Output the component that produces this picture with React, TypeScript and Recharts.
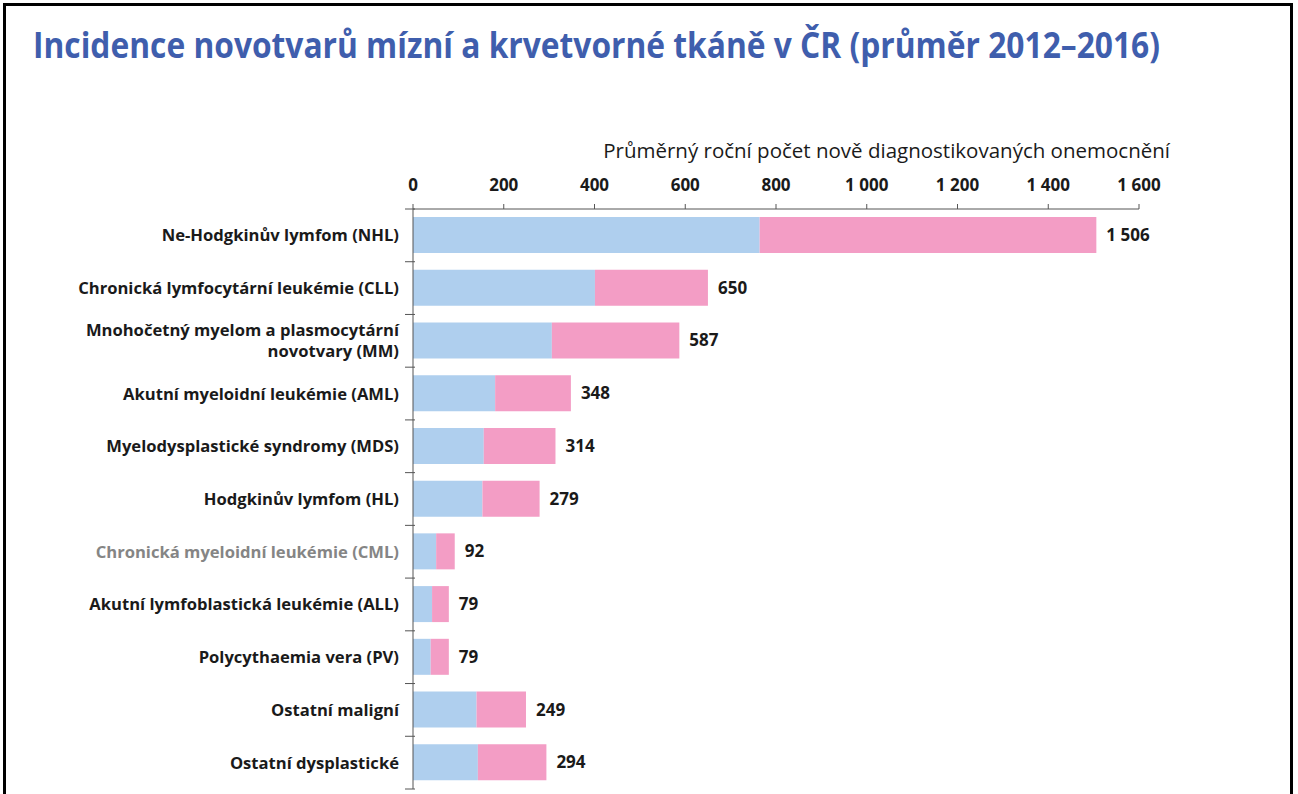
import React from "react";
import { BarChart, Bar, XAxis, YAxis, LabelList } from "recharts";

const categories = [
  "Ne-Hodgkinův lymfom (NHL)",
  "Chronická lymfocytární leukémie (CLL)",
  "Mnohočetný myelom a plasmocytární\nnovotvary (MM)",
  "Akutní myeloidní leukémie (AML)",
  "Myelodysplastické syndromy (MDS)",
  "Hodgkinův lymfom (HL)",
  "Chronická myeloidní leukémie (CML)",
  "Akutní lymfoblastická leukémie (ALL)",
  "Polycythaemia vera (PV)",
  "Ostatní maligní",
  "Ostatní dysplastické",
];
const males = [764, 401, 306, 181, 156, 153, 51, 42, 39, 140, 143];
const females = [742, 249, 281, 167, 158, 126, 41, 37, 40, 109, 151];
const totals = [1506, 650, 587, 348, 314, 279, 92, 79, 79, 249, 294];
const xTicks = [0, 200, 400, 600, 800, 1000, 1200, 1400, 1600];
const greyCategories = ["Chronická myeloidní leukémie (CML)"];

const data = categories.map((c, i) => ({
  name: c,
  male: males[i],
  female: females[i],
  total: totals[i],
}));

const fmtSp = (v: number) => {
  const s = String(Math.round(v));
  return s.length > 3 ? s.slice(0, s.length - 3) + " " + s.slice(-3) : s;
};

const FONT = "'Open Sans', 'Noto Sans', sans-serif";
const CHART_W = 1298;
const CHART_H = 794;
const AXIS_H = 30;
const TOP = 209 - AXIS_H;
const BOTTOM = 5;
const BAND = (CHART_H - TOP - AXIS_H - BOTTOM) / categories.length;

const YTick = (props: any) => {
  const { x, y, payload, index } = props;
  const lines = String(payload.value).split("\n");
  const grey = greyCategories.includes(payload.value);
  const lh = 21;
  const startY = y - ((lines.length - 1) * lh) / 2;
  return (
    <g>
      {lines.map((l, i) => (
        <text
          key={i}
          x={x - 6}
          y={startY + i * lh}
          dy={6}
          textAnchor="end"
          fontFamily={FONT}
          fontWeight={700}
          fontSize={16.6}
          fill={grey ? "#858585" : "#1a1a1a"}
        >
          {l}
        </text>
      ))}
      <line x1={x} x2={x + 10} y1={y + BAND / 2} y2={y + BAND / 2} stroke="#555" strokeWidth={1} />
      {index === 0 && (
        <line x1={x} x2={x + 10} y1={y - BAND / 2} y2={y - BAND / 2} stroke="#555" strokeWidth={1} />
      )}
    </g>
  );
};

export default function App() {
  return (
    <div style={{ position: "fixed", left: 0, top: 0, width: CHART_W, height: CHART_H, background: "#fff" }}>
      <div
        style={{
          position: "absolute",
          left: 3,
          top: 3,
          width: 1284,
          height: 800,
          borderLeft: "3px solid #000",
          borderTop: "3px solid #000",
          borderRight: "3px solid #000",
        }}
      />
      <svg style={{ position: "absolute", left: 0, top: 0 }} width={CHART_W} height={120}>
        <text
          x={33}
          y={58}
          fontFamily="'Liberation Sans Narrow', 'Open Sans', sans-serif"
          fontWeight={700}
          fontSize={35}
          fill="#3F5EAD"
          textLength={1127}
          lengthAdjust="spacingAndGlyphs"
        >
          Incidence novotvarů mízní a krvetvorné tkáně v ČR (průměr 2012–2016)
        </text>
      </svg>
      <svg style={{ position: "absolute", left: 0, top: 120 }} width={CHART_W} height={60}>
        <text x={1170} y={38} textAnchor="end" fontFamily={FONT} fontSize={20.5} fill="#1a1a1a">
          Průměrný roční počet nově diagnostikovaných onemocnění
        </text>
      </svg>
      <div style={{ position: "absolute", left: 0, top: 0 }}>
        <BarChart
          width={CHART_W}
          height={CHART_H}
          data={data}
          layout="vertical"
          margin={{ top: TOP, right: 159, bottom: BOTTOM, left: 0 }}
          barSize={36}
        >
          <XAxis
            type="number"
            orientation="top"
            height={AXIS_H}
            domain={[0, 1600]}
            ticks={xTicks}
            tickFormatter={fmtSp}
            axisLine={{ stroke: "#555" }}
            tickLine={{ stroke: "#555" }}
            tickSize={5}
            tickMargin={13}
            tick={{ fontFamily: FONT, fontWeight: 700, fontSize: 17, fill: "#1a1a1a" }}
            interval={0}
          />
          <YAxis
            type="category"
            dataKey="name"
            width={413}
            axisLine={{ stroke: "#555" }}
            tickLine={false}
            tick={<YTick />}
            interval={0}
          />
          <Bar dataKey="male" stackId="a" fill="#AFCFEE" isAnimationActive={false} />
          <Bar dataKey="female" stackId="a" fill="#F39DC5" isAnimationActive={false}>
            <LabelList
              dataKey="total"
              position="right"
              offset={10}
              formatter={(v: any) => fmtSp(Number(v))}
              style={{ fontFamily: FONT, fontWeight: 700, fontSize: 17, fill: "#1a1a1a" }}
            />
          </Bar>
        </BarChart>
      </div>
    </div>
  );
}
